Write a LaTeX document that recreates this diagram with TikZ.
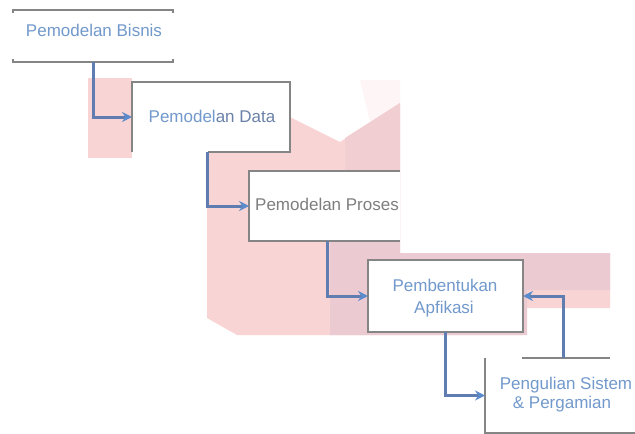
\documentclass[tikz,border=0pt]{standalone}
\usepackage{fontspec}
\setmainfont{Liberation Sans}
\usetikzlibrary{arrows.meta,calc}

\definecolor{pinkbg}{HTML}{F8D4D4}
\definecolor{mauvebg}{HTML}{ECCAD1}
\definecolor{edgegray}{HTML}{858585}
\definecolor{flowblue}{HTML}{5F7DB0}
\definecolor{tipblue}{HTML}{5B8BCB}
\definecolor{labelblue}{HTML}{7299CC}
\definecolor{labeldark}{HTML}{6A82A8}
\definecolor{labelgray}{HTML}{7E7E7E}

\begin{document}
\begin{tikzpicture}[x=1pt,y=-1pt,
  area/.style={inner sep=0pt,outer sep=0pt},
  edgeline/.style={draw=edgegray,line width=2.6pt},
  flowline/.style={draw=flowblue,line width=3pt,
    -{Stealth[length=10pt,width=10pt,color=tipblue]}},
  label/.style={font=\fontsize{17}{20}\selectfont,text=labelblue,anchor=base,inner sep=0pt}
]
% canvas
\fill[white] (0,0) rectangle (635,434);
\useasboundingbox (0,0) rectangle (635,434);
\clip (0,0) rectangle (635,434);

% shaded backdrop behind the lower stages
\fill[pinkbg] (88,78) rectangle (132,158);
\fill[pinkbg!20] (360,80) -- (400,80) -- (400,103) -- (370,122) -- cycle;
\fill[pinkbg] (207,152) -- (290,152) -- (290,117) -- (340,142) -- (400,103)
  -- (400,253) -- (610,253) -- (610,308) -- (523,308) -- (523,335)
  -- (237,335) -- (207,318) -- cycle;
\fill[mauvebg] (330,242) -- (400,242) -- (400,253) -- (610,253) -- (610,290)
  -- (527,290) -- (527,335) -- (330,335) -- cycle;
\fill[mauvebg!60!pinkbg] (345,138) -- (400,103) -- (400,242) -- (345,242) -- cycle;

% stage areas
\node[area,minimum width=160pt,minimum height=52pt] (b1) at (93,36) {};
\node[area,minimum width=158pt,minimum height=70pt] (b2) at (211,117) {};
\node[area,minimum width=151pt,minimum height=70pt] (b3) at (324.5,206) {};
\node[area,minimum width=155pt,minimum height=72pt] (b4) at (445.5,296) {};
\node[area,minimum width=175pt,minimum height=75pt] (b5) at (572.5,395.5) {};

\fill[white] (b2.north west) rectangle (b2.south east);
\fill[white] (b3.north west) rectangle (b3.south east);
\fill[white] (b4.north west) rectangle (b4.south east);
\fill[white] (b5.north west) rectangle (b5.south east);

% stage outlines
\draw[edgeline] ($(b1.north west)+(0,3)$) -- (b1.north west) -- (b1.north east) -- ++(0,3);
\draw[edgeline] ($(b1.south west)+(0,-3)$) -- (b1.south west) -- (b1.south east) -- ++(0,-3);
\draw[edgeline] ($(b2.south west)!0.48!(b2.south east)$) -- (b2.south east)
  -- (b2.north east) -- (b2.north west) -- (b2.south west);
\draw[edgeline] (b3.north east) -- (b3.north west) -- (b3.south west) -- (b3.south east);
\draw[edgeline] (b4.north west) rectangle (b4.south east);
\draw[edgeline] ($(b5.north west)!0.21!(b5.north east)$) -- ($(b5.north west)!0.715!(b5.north east)$);
\draw[edgeline] (b5.north west) -- (b5.south west) -- (b5.south east);

% labels
\node[label] (t1) at (94,36) {Pemodelan Bisnis};
\node[label] (t2) at (212,122) {Pemodel{\color{labeldark}an Data}};
\begin{scope}
  \clip (b3.north west) rectangle (b3.south east);
  \node[label,text=labelgray,anchor=base west] (t3) at (255,210) {Pemodelan Proses};
\end{scope}
\node[label] (t4a) at (445,291) {Pembentukan};
\node[label] (t4b) at (444,313) {Apfikasi};
\node[label] (t5a) at (566,389) {Pengulian Sistem};
\node[label] (t5b) at (562,408) {\& Pergamian};

% flow between stages
\draw[flowline] (b1.south) |- (b2.west);
\draw[flowline] ($(b2.south west)!0.48!(b2.south east)$) |- (b3.west);
\draw[flowline] ($(b3.south west)!0.52!(b3.south east)$) |- (b4.west);
\draw[flowline] (b4.south) |- (b5.west);
\draw[flowline] (b5.north -| 563,0) |- (b4.east);
\end{tikzpicture}
\end{document}
